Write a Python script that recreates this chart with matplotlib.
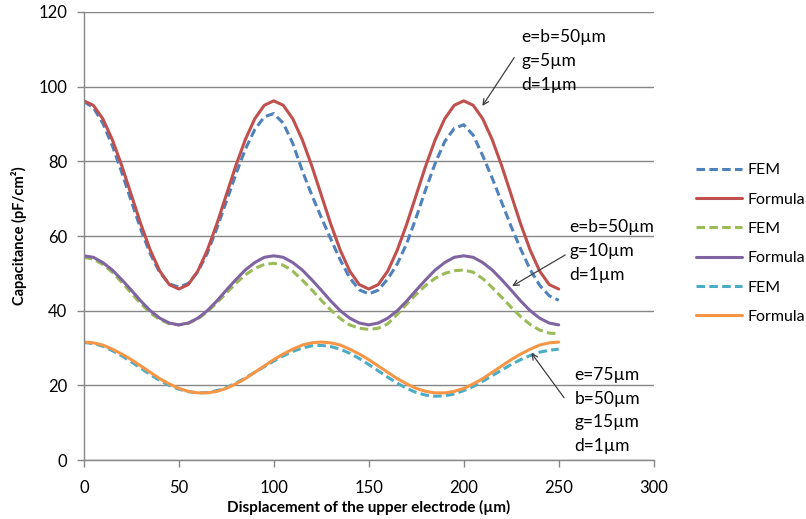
import numpy as np
import matplotlib
matplotlib.use('Agg')
import matplotlib.pyplot as plt

plt.rcParams['font.family'] = ['Lato', 'DejaVu Sans']

# displacement (um)
x = np.arange(0, 251, 5)

fem_g5 = [96.0, 94.4, 90.2, 84.2, 77.0, 69.3, 61.8, 55.2, 50.2, 47.2, 46.3,
          47.3, 50.4, 55.4, 62.0, 69.2, 76.5, 83.2, 88.5, 91.9, 92.8,
          90.2, 84.8, 77.5, 71.0, 65.0, 59.2, 53.6, 48.8, 45.6, 44.5,
          45.5, 48.5, 52.5, 58.0, 65.0, 72.5, 79.5, 85.3, 88.8, 89.8,
          87.0, 81.5, 75.5, 69.0, 62.5, 56.5, 51.0, 46.8, 44.0, 42.8]
formula_g5 = [96.2, 95.0, 91.4, 85.8, 78.8, 71.0, 63.2, 56.2, 50.6, 47.0, 45.8,
              47.0, 50.6, 56.2, 63.2, 71.0, 78.8, 85.8, 91.4, 95.0, 96.2,
              95.0, 91.4, 85.8, 78.8, 71.0, 63.2, 56.2, 50.6, 47.0, 45.8,
              47.0, 50.6, 56.2, 63.2, 71.0, 78.8, 85.8, 91.4, 95.0, 96.2,
              95.0, 91.4, 85.8, 78.8, 71.0, 63.2, 56.2, 50.6, 47.0, 45.8]
fem_g10 = [54.3, 53.8, 52.4, 50.3, 47.6, 44.7, 41.9, 39.4, 37.6, 36.5, 36.2,
           36.6, 37.8, 39.7, 42.1, 44.7, 47.3, 49.6, 51.3, 52.4, 52.7,
           52.2, 50.6, 48.2, 45.6, 42.8, 40.2, 37.9, 36.2, 35.3, 35.0,
           35.3, 36.5, 39.0, 41.8, 44.4, 46.8, 48.7, 50.0, 50.7, 50.9,
           50.3, 48.6, 46.2, 43.6, 40.9, 38.4, 36.3, 34.8, 34.0, 33.8]
formula_g10 = [54.7, 54.3, 52.9, 50.9, 48.3, 45.5, 42.6, 40.0, 38.0, 36.7, 36.2,
               36.7, 38.0, 40.0, 42.6, 45.5, 48.3, 50.9, 52.9, 54.3, 54.7,
               54.3, 52.9, 50.9, 48.3, 45.5, 42.6, 40.0, 38.0, 36.7, 36.2,
               36.7, 38.0, 40.0, 42.6, 45.5, 48.3, 50.9, 52.9, 54.3, 54.7,
               54.3, 52.9, 50.9, 48.3, 45.5, 42.6, 40.0, 38.0, 36.7, 36.2]
fem_g15 = [31.5, 31.2, 30.5, 29.3, 27.9, 26.3, 24.6, 22.9, 21.3, 20.0, 19.0,
           18.3, 18.0, 18.1, 18.6, 19.4, 20.6, 22.0, 23.5, 25.0, 26.5,
           27.9, 29.1, 30.0, 30.6, 30.7, 30.4, 29.7, 28.6, 27.2, 25.6,
           23.9, 22.2, 20.6, 19.2, 18.1, 17.4, 17.1, 17.2, 17.7, 18.6,
           19.7, 21.1, 22.6, 24.1, 25.6, 26.9, 28.0, 28.9, 29.4, 29.7]
formula_g15 = [31.6, 31.4, 30.8, 29.7, 28.4, 26.9, 25.2, 23.5, 21.8, 20.4, 19.2,
               18.4, 18.0, 18.0, 18.4, 19.2, 20.4, 21.8, 23.5, 25.2, 26.9,
               28.4, 29.7, 30.8, 31.4, 31.6, 31.4, 30.8, 29.7, 28.4, 26.9,
               25.2, 23.5, 21.8, 20.4, 19.2, 18.4, 18.0, 18.0, 18.4, 19.2,
               20.4, 21.8, 23.5, 25.2, 26.9, 28.4, 29.7, 30.8, 31.4, 31.6]

series = [
    (fem_g5, 'FEM', '#4F81BD', True),
    (formula_g5, 'Formula', '#C0504D', False),
    (fem_g10, 'FEM', '#9BBB59', True),
    (formula_g10, 'Formula', '#8064A2', False),
    (fem_g15, 'FEM', '#4BACC6', True),
    (formula_g15, 'Formula', '#F79646', False),
]

notes = ['e=b=50\u00b5m\ng=5\u00b5m\nd=1\u00b5m',
         'e=b=50\u00b5m\ng=10\u00b5m\nd=1\u00b5m',
         'e=75\u00b5m\nb=50\u00b5m\ng=15\u00b5m\nd=1\u00b5m']

fig = plt.figure(figsize=(8.06, 5.19), dpi=100)
ax = fig.add_axes([0.104, 0.1135, 0.707, 0.8635])

for y, lab, col, dashed in series:
    if dashed:
        ax.plot(x, y, color=col, lw=2.2, label=lab, dashes=(2.8, 1.4),
                dash_capstyle='butt', solid_joinstyle='round')
    else:
        ax.plot(x, y, color=col, lw=2.2, label=lab, solid_capstyle='round',
                solid_joinstyle='round')

ax.set_xlim(0, 300)
ax.set_ylim(0, 120)
ax.set_xticks(range(0, 301, 50))
ax.set_yticks(range(0, 121, 20))
ax.yaxis.grid(True, color='#868686', lw=1)
ax.set_axisbelow(True)
for s in ['top', 'right']:
    ax.spines[s].set_visible(False)
for s in ['left', 'bottom']:
    ax.spines[s].set_color('#868686')
    ax.spines[s].set_linewidth(1)
ax.tick_params(axis='both', colors='#868686', labelcolor='black',
               labelsize=12, length=5, width=1, direction='out')
ax.tick_params(axis='y', pad=7)
ax.tick_params(axis='x', pad=9)

ax.set_xlabel('Displacement of the upper electrode (\u00b5m)', fontsize=11,
              fontweight='bold', labelpad=3)
ax.set_ylabel('Capacitance (pF/cm\u00b2)', fontsize=10.5, fontweight='bold',
              labelpad=8)

ax.text(230.5, 106.9, notes[0], fontsize=12.5, ha='left', va='center',
        linespacing=1.6)
ax.annotate('', xy=(209, 94.2), xytext=(227.4, 108.4),
            arrowprops=dict(arrowstyle='->', color='#404040', lw=0.9))
ax.text(255.8, 56.0, notes[1], fontsize=12.5, ha='left', va='center',
        linespacing=1.6)
ax.annotate('', xy=(224.2, 46.2), xytext=(254.7, 55.3),
            arrowprops=dict(arrowstyle='->', color='#404040', lw=0.9))
ax.text(258.4, 13.3, notes[2], fontsize=12.5, ha='left', va='center',
        linespacing=1.6)
ax.annotate('', xy=(234.7, 29.3), xytext=(253.7, 16.1),
            arrowprops=dict(arrowstyle='->', color='#404040', lw=0.9))

fig.legend(loc='upper left', bbox_to_anchor=(0.8635, 0.686), frameon=False,
           fontsize=11.5, handlelength=2.85, handletextpad=0.35,
           labelspacing=0.95, borderpad=0, borderaxespad=0)

fig.savefig('out.png', dpi=100)
